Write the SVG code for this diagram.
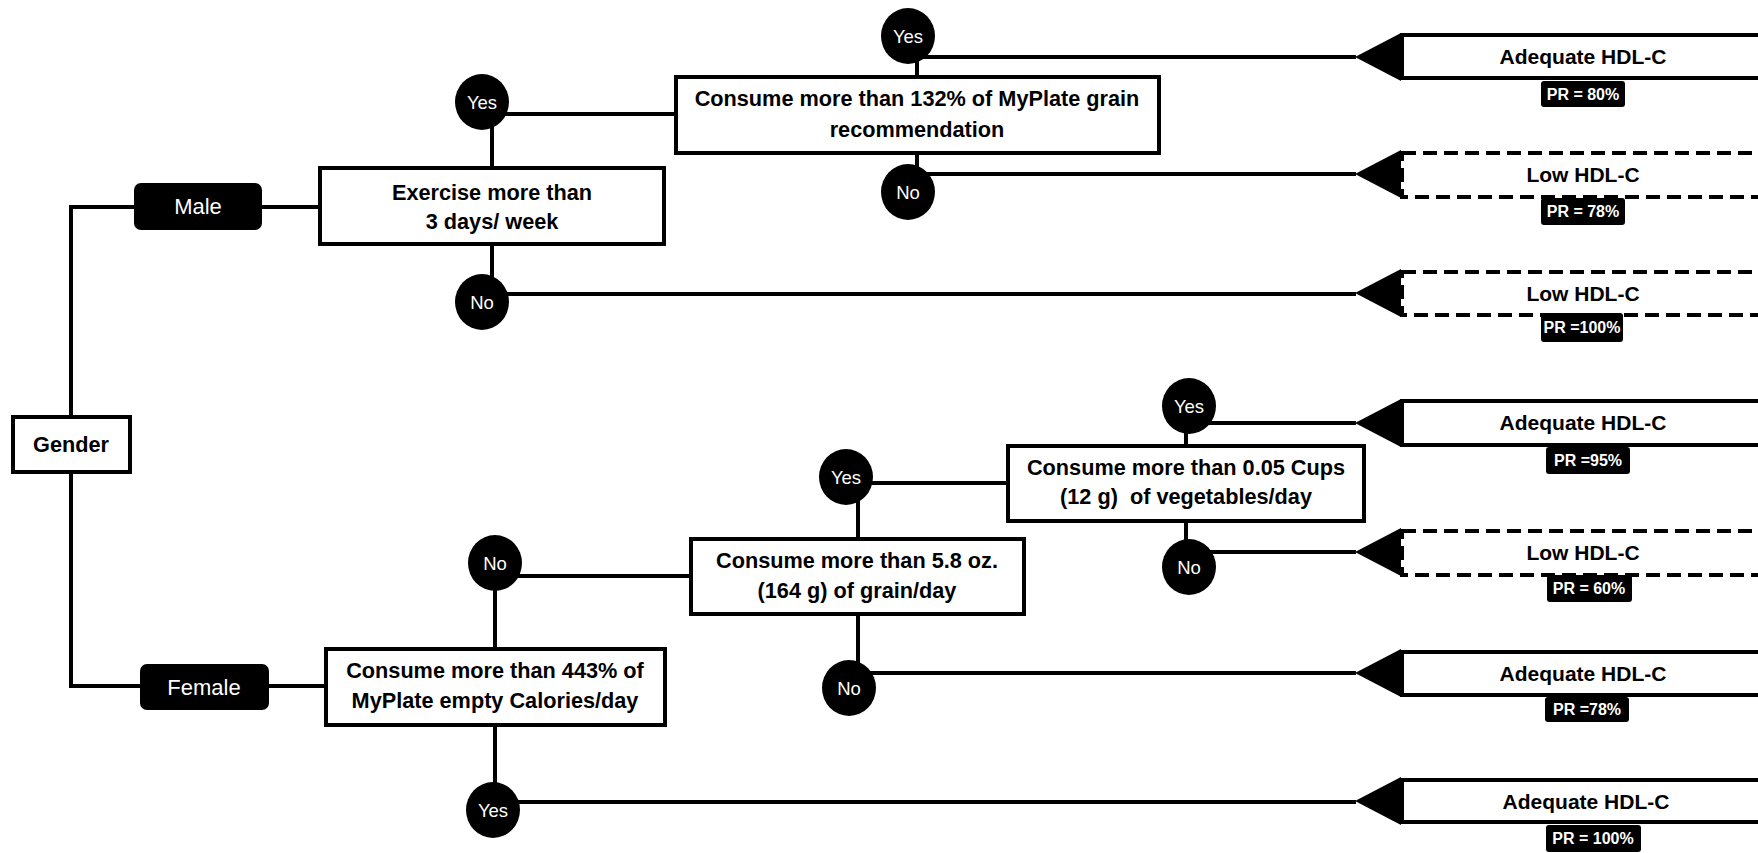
<svg xmlns="http://www.w3.org/2000/svg" width="1758" height="853" viewBox="0 0 1758 853">
<style>
.ln{fill:none;stroke:#000;stroke-width:4}
.box{fill:#fff;stroke:#000;stroke-width:4}
.dbox{fill:#fff;stroke:#000;stroke-width:4;stroke-dasharray:14 7}
.blk{fill:#000}
.circ{fill:#000}
.t{font-family:"Liberation Sans",Arial,sans-serif;font-weight:bold;font-size:21.7px;fill:#000;text-anchor:middle}
.o{font-family:"Liberation Sans",Arial,sans-serif;font-weight:bold;font-size:21px;fill:#000;text-anchor:middle}
.w{font-family:"Liberation Sans",Arial,sans-serif;font-size:22px;fill:#fff;text-anchor:middle}
.yn{font-family:"Liberation Sans",Arial,sans-serif;font-size:18.5px;fill:#fff;text-anchor:middle}
.pr{font-family:"Liberation Sans",Arial,sans-serif;font-weight:bold;font-size:16px;fill:#fff;text-anchor:middle}
</style>
<rect width="1758" height="853" fill="#fff"/>
<g id="connectors">
<path class="ln" d="M134 207 H71 V686 H140"/>
<path class="ln" d="M262 207 H320"/>
<path class="ln" d="M269 686 H326"/>
<path class="ln" d="M492 102 V168 M492 244 V302"/>
<path class="ln" d="M492 114 H676"/>
<path class="ln" d="M917 36 V77 M917 153 V192"/>
<path class="ln" d="M917 57 H1356"/>
<path class="ln" d="M917 174 H1356"/>
<path class="ln" d="M492 294 H1356"/>
<path class="ln" d="M495 563 V649 M495 725 V810"/>
<path class="ln" d="M495 576 H691"/>
<path class="ln" d="M495 802 H1356"/>
<path class="ln" d="M858 477 V539 M858 614 V688"/>
<path class="ln" d="M858 483 H1008"/>
<path class="ln" d="M858 673 H1356"/>
<path class="ln" d="M1186 406 V446 M1186 521 V567"/>
<path class="ln" d="M1186 423 H1356"/>
<path class="ln" d="M1186 552 H1356"/>
</g>
<g id="gender"><rect class="box" x="13" y="417" width="117" height="55"/><text class="t" x="71" y="452">Gender</text></g>
<g id="male"><rect class="blk" x="134" y="183" width="128" height="47" rx="7"/><text class="w" x="198" y="214">Male</text></g>
<g id="female"><rect class="blk" x="140" y="664" width="129" height="46" rx="7"/><text class="w" x="204" y="695">Female</text></g>
<g id="exercise"><rect class="box" x="320" y="168" width="344" height="76"/><text class="t" x="492" y="200">Exercise more than</text><text class="t" x="492" y="229">3 days/ week</text></g>
<g id="grain132"><rect class="box" x="676" y="77" width="483" height="76"/><text class="t" x="917" y="106">Consume more than 132% of MyPlate grain</text><text class="t" x="917" y="137">recommendation</text></g>
<g id="empty443"><rect class="box" x="326" y="649" width="339" height="76"/><text class="t" x="495" y="678">Consume more than 443% of</text><text class="t" x="495" y="708">MyPlate empty Calories/day</text></g>
<g id="grain58"><rect class="box" x="691" y="539" width="333" height="75"/><text class="t" x="857" y="568">Consume more than 5.8 oz.</text><text class="t" x="857" y="598">(164 g) of grain/day</text></g>
<g id="veg"><rect class="box" x="1008" y="446" width="356" height="75"/><text class="t" x="1186" y="475">Consume more than 0.05 Cups</text><text class="t" x="1186" y="504" xml:space="preserve">(12 g)  of vegetables/day</text></g>
<g id="c_yes1"><ellipse class="circ" cx="482" cy="102" rx="27" ry="28"/><text class="yn" x="482" y="109">Yes</text></g>
<g id="c_no1"><ellipse class="circ" cx="482" cy="302" rx="27" ry="28"/><text class="yn" x="482" y="309">No</text></g>
<g id="c_yes2"><ellipse class="circ" cx="908" cy="36" rx="27" ry="28"/><text class="yn" x="908" y="43">Yes</text></g>
<g id="c_no2"><ellipse class="circ" cx="908" cy="192" rx="27" ry="28"/><text class="yn" x="908" y="199">No</text></g>
<g id="c_no3"><ellipse class="circ" cx="495" cy="563" rx="27" ry="28"/><text class="yn" x="495" y="570">No</text></g>
<g id="c_yes3"><ellipse class="circ" cx="493" cy="810" rx="27" ry="28"/><text class="yn" x="493" y="817">Yes</text></g>
<g id="c_yes4"><ellipse class="circ" cx="846" cy="477" rx="27" ry="28"/><text class="yn" x="846" y="484">Yes</text></g>
<g id="c_no4"><ellipse class="circ" cx="849" cy="688" rx="27" ry="28"/><text class="yn" x="849" y="695">No</text></g>
<g id="c_yes5"><ellipse class="circ" cx="1189" cy="406" rx="27" ry="28"/><text class="yn" x="1189" y="413">Yes</text></g>
<g id="c_no5"><ellipse class="circ" cx="1189" cy="567" rx="27" ry="28"/><text class="yn" x="1189" y="574">No</text></g>
<g id="out1"><rect class="box" x="1402" y="35" width="380" height="43"/><polygon class="blk" points="1355,57 1401,33 1401,81"/><text class="o" x="1583" y="64">Adequate HDL-C</text><rect class="blk" x="1541" y="81" width="84" height="26" rx="3"/><text class="pr" x="1583" y="100">PR = 80%</text></g>
<g id="out2"><rect class="dbox" x="1402" y="153" width="380" height="44"/><polygon class="blk" points="1355,174 1401,150 1401,198"/><text class="o" x="1583" y="182">Low HDL-C</text><rect class="blk" x="1541" y="198" width="84" height="27" rx="3"/><text class="pr" x="1583" y="217">PR = 78%</text></g>
<g id="out3"><rect class="dbox" x="1402" y="272" width="380" height="43"/><polygon class="blk" points="1355,293 1401,269 1401,317"/><text class="o" x="1583" y="301">Low HDL-C</text><rect class="blk" x="1541" y="313" width="82" height="29" rx="3"/><text class="pr" x="1582" y="333">PR =100%</text></g>
<g id="out4"><rect class="box" x="1402" y="401" width="380" height="44"/><polygon class="blk" points="1355,423 1401,399 1401,447"/><text class="o" x="1583" y="430">Adequate HDL-C</text><rect class="blk" x="1546" y="447" width="84" height="27" rx="3"/><text class="pr" x="1588" y="466">PR =95%</text></g>
<g id="out5"><rect class="dbox" x="1402" y="531" width="380" height="44"/><polygon class="blk" points="1355,552 1401,528 1401,576"/><text class="o" x="1583" y="560">Low HDL-C</text><rect class="blk" x="1547" y="575" width="85" height="27" rx="3"/><text class="pr" x="1589" y="594">PR = 60%</text></g>
<g id="out6"><rect class="box" x="1402" y="652" width="380" height="43"/><polygon class="blk" points="1355,673 1401,649 1401,697"/><text class="o" x="1583" y="681">Adequate HDL-C</text><rect class="blk" x="1545" y="697" width="84" height="25" rx="3"/><text class="pr" x="1587" y="715">PR =78%</text></g>
<g id="out7"><rect class="box" x="1402" y="780" width="380" height="42"/><polygon class="blk" points="1355,801 1401,777 1401,825"/><text class="o" x="1586" y="809">Adequate HDL-C</text><rect class="blk" x="1546" y="825" width="95" height="27" rx="3"/><text class="pr" x="1593" y="844">PR = 100%</text></g>
</svg>
